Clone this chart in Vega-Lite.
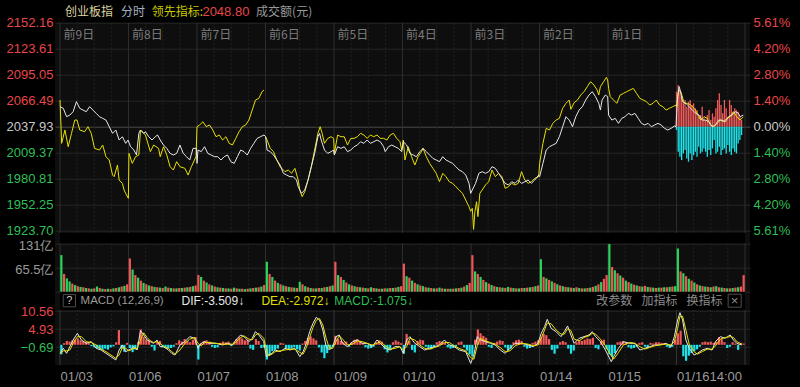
{
"$schema":"https://vega.github.io/schema/vega-lite/v6.json",
"autosize":{"type":"none"},
"width":695,"height":342.3,
"padding":{"left":55,"top":22.7,"right":50,"bottom":22},
"background":"#000000",
"config":{"view":{"stroke":null,"fill":"#0e0e0e"},"axis":{"labelFont":"Liberation Sans","labelFontSize":13,"domain":false,"ticks":false,"labelOverlap":false}},
"datasets":{
"vg":[{"t":0,"k":"d"},{"t":0.25,"k":"q"},{"t":0.5,"k":"q"},{"t":0.75,"k":"q"},{"t":1,"k":"d"},{"t":1.25,"k":"q"},{"t":1.5,"k":"q"},{"t":1.75,"k":"q"},{"t":2,"k":"d"},{"t":2.25,"k":"q"},{"t":2.5,"k":"q"},{"t":2.75,"k":"q"},{"t":3,"k":"d"},{"t":3.25,"k":"q"},{"t":3.5,"k":"q"},{"t":3.75,"k":"q"},{"t":4,"k":"d"},{"t":4.25,"k":"q"},{"t":4.5,"k":"q"},{"t":4.75,"k":"q"},{"t":5,"k":"d"},{"t":5.25,"k":"q"},{"t":5.5,"k":"q"},{"t":5.75,"k":"q"},{"t":6,"k":"d"},{"t":6.25,"k":"q"},{"t":6.5,"k":"q"},{"t":6.75,"k":"q"},{"t":7,"k":"d"},{"t":7.25,"k":"q"},{"t":7.5,"k":"q"},{"t":7.75,"k":"q"},{"t":8,"k":"d"},{"t":8.25,"k":"q"},{"t":8.5,"k":"q"},{"t":8.75,"k":"q"},{"t":9,"k":"d"},{"t":9.25,"k":"q"},{"t":9.5,"k":"q"},{"t":9.75,"k":"q"},{"t":10,"k":"d"}],
"days":[{"d":0,"s":"前9日"},{"d":1,"s":"前8日"},{"d":2,"s":"前7日"},{"d":3,"s":"前6日"},{"d":4,"s":"前5日"},{"d":5,"s":"前4日"},{"d":6,"s":"前3日"},{"d":7,"s":"前2日"},{"d":8,"s":"前1日"}],
"ln":[
{"g":"w","t":0,"p":2059.9},{"g":"w","t":0.048,"p":2058.1},{"g":"w","t":0.096,"p":2048.9},{"g":"w","t":0.144,"p":2050.7},{"g":"w","t":0.192,"p":2054.4},{"g":"w","t":0.24,"p":2065.4},{"g":"w","t":0.288,"p":2058.1},{"g":"w","t":0.336,"p":2056.2},{"g":"w","t":0.384,"p":2054.4},{"g":"w","t":0.432,"p":2059.9},{"g":"w","t":0.48,"p":2056.2},{"g":"w","t":0.528,"p":2052.6},{"g":"w","t":0.576,"p":2048.9},{"g":"w","t":0.623,"p":2047.1},{"g":"w","t":0.671,"p":2045.2},{"g":"w","t":0.719,"p":2037.9},{"g":"w","t":0.767,"p":2030.6},{"g":"w","t":0.815,"p":2034.3},{"g":"w","t":0.863,"p":2023.3},{"g":"w","t":0.911,"p":2026.9},{"g":"w","t":0.959,"p":2019.6},{"g":"w","t":0.993,"p":2023.3},
{"g":"w","t":1.031,"p":2015.9},{"g":"w","t":1.079,"p":2012.3},{"g":"w","t":1.117,"p":2006.8},{"g":"w","t":1.151,"p":2030.6},{"g":"w","t":1.175,"p":2034.3},{"g":"w","t":1.223,"p":2030.6},{"g":"w","t":1.247,"p":2032.4},{"g":"w","t":1.295,"p":2026.9},{"g":"w","t":1.343,"p":2023.3},{"g":"w","t":1.391,"p":2026.9},{"g":"w","t":1.424,"p":2028.8},{"g":"w","t":1.463,"p":2023.3},{"g":"w","t":1.511,"p":2017.8},{"g":"w","t":1.559,"p":2014.1},{"g":"w","t":1.607,"p":2008.6},{"g":"w","t":1.655,"p":2006.8},{"g":"w","t":1.703,"p":2008.6},{"g":"w","t":1.751,"p":2017.8},{"g":"w","t":1.799,"p":2008.6},{"g":"w","t":1.847,"p":2005.0},{"g":"w","t":1.894,"p":2001.3},{"g":"w","t":1.942,"p":2014.1},{"g":"w","t":1.99,"p":2014.1},
{"g":"w","t":2.0,"p":1997.6},{"g":"w","t":2.014,"p":2012.3},{"g":"w","t":2.062,"p":2010.5},{"g":"w","t":2.11,"p":2015.9},{"g":"w","t":2.158,"p":2008.6},{"g":"w","t":2.206,"p":2006.8},{"g":"w","t":2.254,"p":2005.0},{"g":"w","t":2.302,"p":2005.0},{"g":"w","t":2.35,"p":2001.3},{"g":"w","t":2.398,"p":2005.0},{"g":"w","t":2.446,"p":2006.8},{"g":"w","t":2.494,"p":1999.5},{"g":"w","t":2.542,"p":1997.6},{"g":"w","t":2.59,"p":2005.0},{"g":"w","t":2.638,"p":2012.3},{"g":"w","t":2.686,"p":2010.5},{"g":"w","t":2.734,"p":2006.8},{"g":"w","t":2.782,"p":2014.1},{"g":"w","t":2.83,"p":2019.6},{"g":"w","t":2.878,"p":2025.1},{"g":"w","t":2.926,"p":2026.9},{"g":"w","t":2.978,"p":2028.8},
{"g":"w","t":3.002,"p":2026.9},{"g":"w","t":3.022,"p":2012.3},{"g":"w","t":3.07,"p":2010.5},{"g":"w","t":3.117,"p":2006.8},{"g":"w","t":3.165,"p":2001.3},{"g":"w","t":3.213,"p":1995.8},{"g":"w","t":3.261,"p":1986.7},{"g":"w","t":3.309,"p":1984.8},{"g":"w","t":3.357,"p":1983.0},{"g":"w","t":3.405,"p":1983.0},{"g":"w","t":3.453,"p":1979.3},{"g":"w","t":3.477,"p":1972.0},{"g":"w","t":3.525,"p":1964.7},{"g":"w","t":3.573,"p":1968.4},{"g":"w","t":3.621,"p":1979.3},{"g":"w","t":3.669,"p":1994.0},{"g":"w","t":3.717,"p":2008.6},{"g":"w","t":3.765,"p":2026.9},{"g":"w","t":3.789,"p":2030.6},{"g":"w","t":3.813,"p":2023.3},{"g":"w","t":3.861,"p":2012.3},{"g":"w","t":3.909,"p":2008.6},{"g":"w","t":3.957,"p":2010.5},{"g":"w","t":3.995,"p":2012.3},
{"g":"w","t":4.005,"p":2006.8},{"g":"w","t":4.053,"p":2015.9},{"g":"w","t":4.101,"p":2014.1},{"g":"w","t":4.149,"p":2015.9},{"g":"w","t":4.197,"p":2010.5},{"g":"w","t":4.245,"p":2012.3},{"g":"w","t":4.293,"p":2015.9},{"g":"w","t":4.341,"p":2017.8},{"g":"w","t":4.388,"p":2021.4},{"g":"w","t":4.436,"p":2019.6},{"g":"w","t":4.484,"p":2023.3},{"g":"w","t":4.532,"p":2019.6},{"g":"w","t":4.58,"p":2021.4},{"g":"w","t":4.628,"p":2023.3},{"g":"w","t":4.676,"p":2021.4},{"g":"w","t":4.724,"p":2015.9},{"g":"w","t":4.748,"p":2010.5},{"g":"w","t":4.796,"p":2015.9},{"g":"w","t":4.844,"p":2017.8},{"g":"w","t":4.892,"p":2015.9},{"g":"w","t":4.94,"p":2014.1},{"g":"w","t":4.988,"p":2010.5},
{"g":"w","t":5.012,"p":2021.4},{"g":"w","t":5.06,"p":2017.8},{"g":"w","t":5.108,"p":2008.6},{"g":"w","t":5.156,"p":2006.8},{"g":"w","t":5.204,"p":2005.0},{"g":"w","t":5.252,"p":2010.5},{"g":"w","t":5.3,"p":2014.1},{"g":"w","t":5.348,"p":2010.5},{"g":"w","t":5.396,"p":2006.8},{"g":"w","t":5.444,"p":2003.1},{"g":"w","t":5.492,"p":2001.3},{"g":"w","t":5.54,"p":1999.5},{"g":"w","t":5.588,"p":2005.0},{"g":"w","t":5.635,"p":2001.3},{"g":"w","t":5.683,"p":1999.5},{"g":"w","t":5.731,"p":1997.6},{"g":"w","t":5.779,"p":1994.0},{"g":"w","t":5.827,"p":1990.3},{"g":"w","t":5.875,"p":1988.5},{"g":"w","t":5.923,"p":1984.8},{"g":"w","t":5.971,"p":1975.7},{"g":"w","t":5.995,"p":1964.7},
{"g":"w","t":6.019,"p":1968.4},{"g":"w","t":6.067,"p":1975.7},{"g":"w","t":6.115,"p":1986.7},{"g":"w","t":6.163,"p":1988.5},{"g":"w","t":6.211,"p":1986.7},{"g":"w","t":6.259,"p":1988.5},{"g":"w","t":6.307,"p":1994.0},{"g":"w","t":6.355,"p":1992.2},{"g":"w","t":6.403,"p":1986.7},{"g":"w","t":6.451,"p":1981.2},{"g":"w","t":6.499,"p":1975.7},{"g":"w","t":6.547,"p":1973.9},{"g":"w","t":6.595,"p":1977.5},{"g":"w","t":6.643,"p":1975.7},{"g":"w","t":6.69,"p":1979.3},{"g":"w","t":6.738,"p":1975.7},{"g":"w","t":6.786,"p":1977.5},{"g":"w","t":6.834,"p":1979.3},{"g":"w","t":6.882,"p":1975.7},{"g":"w","t":6.93,"p":1979.3},{"g":"w","t":6.988,"p":1984.8},
{"g":"w","t":7.002,"p":1983.0},{"g":"w","t":7.05,"p":1997.6},{"g":"w","t":7.098,"p":2012.3},{"g":"w","t":7.146,"p":2015.9},{"g":"w","t":7.194,"p":2017.8},{"g":"w","t":7.242,"p":2019.6},{"g":"w","t":7.29,"p":2026.9},{"g":"w","t":7.338,"p":2037.9},{"g":"w","t":7.386,"p":2048.9},{"g":"w","t":7.434,"p":2045.2},{"g":"w","t":7.482,"p":2037.9},{"g":"w","t":7.53,"p":2048.9},{"g":"w","t":7.578,"p":2056.2},{"g":"w","t":7.626,"p":2059.9},{"g":"w","t":7.674,"p":2067.2},{"g":"w","t":7.722,"p":2072.7},{"g":"w","t":7.77,"p":2076.4},{"g":"w","t":7.817,"p":2070.9},{"g":"w","t":7.865,"p":2063.6},{"g":"w","t":7.889,"p":2056.2},{"g":"w","t":7.913,"p":2067.2},{"g":"w","t":7.961,"p":2072.7},{"g":"w","t":7.995,"p":2070.9},
{"g":"w","t":8.009,"p":2050.7},{"g":"w","t":8.057,"p":2045.2},{"g":"w","t":8.105,"p":2047.1},{"g":"w","t":8.153,"p":2041.6},{"g":"w","t":8.201,"p":2047.1},{"g":"w","t":8.249,"p":2048.9},{"g":"w","t":8.297,"p":2052.6},{"g":"w","t":8.345,"p":2050.7},{"g":"w","t":8.393,"p":2052.6},{"g":"w","t":8.441,"p":2047.1},{"g":"w","t":8.489,"p":2041.6},{"g":"w","t":8.537,"p":2039.8},{"g":"w","t":8.585,"p":2041.6},{"g":"w","t":8.633,"p":2037.9},{"g":"w","t":8.681,"p":2039.8},{"g":"w","t":8.729,"p":2041.6},{"g":"w","t":8.777,"p":2039.8},{"g":"w","t":8.825,"p":2036.1},{"g":"w","t":8.873,"p":2034.3},{"g":"w","t":8.921,"p":2036.1},{"g":"w","t":8.969,"p":2038.7},{"g":"w","t":8.993,"p":2037.9},
{"g":"w","t":9.002,"p":2052.6},{"g":"w","t":9.016,"p":2070.9},{"g":"w","t":9.04,"p":2081.9},{"g":"w","t":9.064,"p":2074.5},{"g":"w","t":9.088,"p":2065.4},{"g":"w","t":9.136,"p":2063.6},{"g":"w","t":9.184,"p":2059.9},{"g":"w","t":9.232,"p":2056.2},{"g":"w","t":9.28,"p":2052.6},{"g":"w","t":9.328,"p":2050.7},{"g":"w","t":9.376,"p":2045.2},{"g":"w","t":9.424,"p":2045.2},{"g":"w","t":9.472,"p":2043.4},{"g":"w","t":9.52,"p":2037.9},{"g":"w","t":9.568,"p":2039.8},{"g":"w","t":9.616,"p":2045.2},{"g":"w","t":9.664,"p":2045.2},{"g":"w","t":9.712,"p":2043.4},{"g":"w","t":9.76,"p":2048.9},{"g":"w","t":9.808,"p":2050.7},{"g":"w","t":9.856,"p":2054.4},{"g":"w","t":9.904,"p":2052.6},{"g":"w","t":9.928,"p":2048.9},{"g":"w","t":9.976,"p":2050.7},
{"g":"a","t":0,"p":2067.2},{"g":"a","t":0.024,"p":2019.6},{"g":"a","t":0.072,"p":2034.3},{"g":"a","t":0.12,"p":2015.9},{"g":"a","t":0.168,"p":2030.6},{"g":"a","t":0.216,"p":2045.2},{"g":"a","t":0.249,"p":2045.2},{"g":"a","t":0.288,"p":2034.3},{"g":"a","t":0.36,"p":2032.4},{"g":"a","t":0.408,"p":2037.9},{"g":"a","t":0.456,"p":2030.6},{"g":"a","t":0.504,"p":2014.1},{"g":"a","t":0.576,"p":2012.3},{"g":"a","t":0.623,"p":2017.8},{"g":"a","t":0.671,"p":2005.0},{"g":"a","t":0.719,"p":2001.3},{"g":"a","t":0.767,"p":1984.8},{"g":"a","t":0.791,"p":1983.0},{"g":"a","t":0.839,"p":1995.8},{"g":"a","t":0.863,"p":1979.3},{"g":"a","t":0.911,"p":1975.7},{"g":"a","t":0.935,"p":1968.4},{"g":"a","t":0.959,"p":1964.7},{"g":"a","t":0.998,"p":1959.2},
{"g":"a","t":1.007,"p":2008.6},{"g":"a","t":1.055,"p":1997.6},{"g":"a","t":1.103,"p":2005.0},{"g":"a","t":1.151,"p":2006.8},{"g":"a","t":1.175,"p":2034.3},{"g":"a","t":1.247,"p":2028.8},{"g":"a","t":1.319,"p":2010.5},{"g":"a","t":1.367,"p":2017.8},{"g":"a","t":1.439,"p":2014.1},{"g":"a","t":1.463,"p":2005.0},{"g":"a","t":1.511,"p":2015.9},{"g":"a","t":1.559,"p":2006.8},{"g":"a","t":1.607,"p":1994.0},{"g":"a","t":1.655,"p":1990.3},{"g":"a","t":1.703,"p":1999.5},{"g":"a","t":1.751,"p":1994.0},{"g":"a","t":1.823,"p":1992.2},{"g":"a","t":1.87,"p":1984.8},{"g":"a","t":1.918,"p":1994.0},{"g":"a","t":1.986,"p":2005.0},
{"g":"a","t":2.0,"p":2037.9},{"g":"a","t":2.038,"p":2039.8},{"g":"a","t":2.086,"p":2043.4},{"g":"a","t":2.134,"p":2037.9},{"g":"a","t":2.182,"p":2039.8},{"g":"a","t":2.23,"p":2034.3},{"g":"a","t":2.278,"p":2026.9},{"g":"a","t":2.326,"p":2028.8},{"g":"a","t":2.374,"p":2023.3},{"g":"a","t":2.422,"p":2026.9},{"g":"a","t":2.47,"p":2019.6},{"g":"a","t":2.518,"p":2017.8},{"g":"a","t":2.566,"p":2025.1},{"g":"a","t":2.614,"p":2032.4},{"g":"a","t":2.662,"p":2037.9},{"g":"a","t":2.71,"p":2039.8},{"g":"a","t":2.758,"p":2045.2},{"g":"a","t":2.806,"p":2056.2},{"g":"a","t":2.854,"p":2067.2},{"g":"a","t":2.902,"p":2069.0},{"g":"a","t":2.95,"p":2076.4},{"g":"a","t":2.978,"p":2078.2},
{"g":"b","t":3.002,"p":2026.9},{"g":"b","t":3.022,"p":2023.3},{"g":"b","t":3.07,"p":2014.1},{"g":"b","t":3.117,"p":2010.5},{"g":"b","t":3.165,"p":2001.3},{"g":"b","t":3.213,"p":1994.0},{"g":"b","t":3.285,"p":1988.5},{"g":"b","t":3.333,"p":1990.3},{"g":"b","t":3.381,"p":1986.7},{"g":"b","t":3.429,"p":1992.2},{"g":"b","t":3.477,"p":1979.3},{"g":"b","t":3.501,"p":1968.4},{"g":"b","t":3.535,"p":1961.0},{"g":"b","t":3.573,"p":1966.5},{"g":"b","t":3.621,"p":1979.3},{"g":"b","t":3.669,"p":1994.0},{"g":"b","t":3.717,"p":2012.3},{"g":"b","t":3.765,"p":2030.6},{"g":"b","t":3.798,"p":2037.9},{"g":"b","t":3.827,"p":2030.6},{"g":"b","t":3.861,"p":2019.6},{"g":"b","t":3.909,"p":2025.1},{"g":"b","t":3.957,"p":2026.9},{"g":"b","t":3.995,"p":2025.1},
{"g":"b","t":4.005,"p":2008.6},{"g":"b","t":4.053,"p":2028.8},{"g":"b","t":4.101,"p":2026.9},{"g":"b","t":4.149,"p":2026.9},{"g":"b","t":4.197,"p":2017.8},{"g":"b","t":4.245,"p":2025.1},{"g":"b","t":4.293,"p":2025.1},{"g":"b","t":4.341,"p":2026.9},{"g":"b","t":4.388,"p":2030.6},{"g":"b","t":4.436,"p":2028.8},{"g":"b","t":4.484,"p":2025.1},{"g":"b","t":4.532,"p":2028.8},{"g":"b","t":4.58,"p":2026.9},{"g":"b","t":4.628,"p":2028.8},{"g":"b","t":4.676,"p":2025.1},{"g":"b","t":4.724,"p":2025.1},{"g":"b","t":4.772,"p":2023.3},{"g":"b","t":4.82,"p":2028.8},{"g":"b","t":4.868,"p":2030.6},{"g":"b","t":4.916,"p":2025.1},{"g":"b","t":4.964,"p":2021.4},{"g":"b","t":4.988,"p":2012.3},
{"g":"b","t":5.012,"p":2023.3},{"g":"b","t":5.036,"p":2001.3},{"g":"b","t":5.084,"p":2015.9},{"g":"b","t":5.132,"p":2005.0},{"g":"b","t":5.18,"p":1995.8},{"g":"b","t":5.228,"p":2005.0},{"g":"b","t":5.276,"p":2010.5},{"g":"b","t":5.3,"p":2014.1},{"g":"b","t":5.348,"p":2005.0},{"g":"b","t":5.396,"p":1997.6},{"g":"b","t":5.444,"p":1992.2},{"g":"b","t":5.492,"p":1986.7},{"g":"b","t":5.54,"p":1977.5},{"g":"b","t":5.588,"p":1986.7},{"g":"b","t":5.635,"p":1983.0},{"g":"b","t":5.683,"p":1977.5},{"g":"b","t":5.731,"p":1975.7},{"g":"b","t":5.779,"p":1972.0},{"g":"b","t":5.827,"p":1968.4},{"g":"b","t":5.875,"p":1964.7},{"g":"b","t":5.923,"p":1957.4},{"g":"b","t":5.971,"p":1950.0},{"g":"b","t":5.995,"p":1945.0},
{"g":"b","t":6.019,"p":1948.2},{"g":"b","t":6.038,"p":1925.1},{"g":"b","t":6.057,"p":1944.6},{"g":"b","t":6.081,"p":1955.5},{"g":"b","t":6.101,"p":1939.1},{"g":"b","t":6.129,"p":1964.7},{"g":"b","t":6.163,"p":1968.4},{"g":"b","t":6.211,"p":1973.9},{"g":"b","t":6.259,"p":1977.5},{"g":"b","t":6.307,"p":1990.3},{"g":"b","t":6.355,"p":1983.0},{"g":"b","t":6.403,"p":1986.7},{"g":"b","t":6.451,"p":1983.0},{"g":"b","t":6.499,"p":1970.2},{"g":"b","t":6.547,"p":1972.0},{"g":"b","t":6.595,"p":1975.7},{"g":"b","t":6.643,"p":1973.9},{"g":"b","t":6.69,"p":1975.7},{"g":"b","t":6.738,"p":1988.5},{"g":"b","t":6.786,"p":1979.3},{"g":"b","t":6.834,"p":1975.7},{"g":"b","t":6.882,"p":1977.5},{"g":"b","t":6.93,"p":1981.2},{"g":"b","t":6.988,"p":1983.0},
{"g":"b","t":7.002,"p":1997.6},{"g":"b","t":7.05,"p":2019.6},{"g":"b","t":7.098,"p":2036.1},{"g":"b","t":7.146,"p":2034.3},{"g":"b","t":7.194,"p":2041.6},{"g":"b","t":7.242,"p":2045.2},{"g":"b","t":7.29,"p":2047.1},{"g":"b","t":7.338,"p":2058.1},{"g":"b","t":7.386,"p":2063.6},{"g":"b","t":7.434,"p":2067.2},{"g":"b","t":7.458,"p":2057.0},{"g":"b","t":7.506,"p":2064.3},{"g":"b","t":7.554,"p":2067.2},{"g":"b","t":7.602,"p":2072.7},{"g":"b","t":7.65,"p":2076.4},{"g":"b","t":7.698,"p":2081.9},{"g":"b","t":7.746,"p":2087.4},{"g":"b","t":7.794,"p":2083.7},{"g":"b","t":7.842,"p":2078.2},{"g":"b","t":7.865,"p":2072.7},{"g":"b","t":7.889,"p":2081.9},{"g":"b","t":7.937,"p":2087.4},{"g":"b","t":7.976,"p":2092.1},{"g":"b","t":7.995,"p":2089.2},
{"g":"b","t":8.009,"p":2080.0},{"g":"b","t":8.033,"p":2070.9},{"g":"b","t":8.081,"p":2067.2},{"g":"b","t":8.129,"p":2063.6},{"g":"b","t":8.177,"p":2072.7},{"g":"b","t":8.225,"p":2074.5},{"g":"b","t":8.273,"p":2076.4},{"g":"b","t":8.321,"p":2078.2},{"g":"b","t":8.369,"p":2080.0},{"g":"b","t":8.417,"p":2074.5},{"g":"b","t":8.465,"p":2069.0},{"g":"b","t":8.513,"p":2067.2},{"g":"b","t":8.561,"p":2065.4},{"g":"b","t":8.609,"p":2061.7},{"g":"b","t":8.657,"p":2063.6},{"g":"b","t":8.705,"p":2067.2},{"g":"b","t":8.753,"p":2061.7},{"g":"b","t":8.801,"p":2059.9},{"g":"b","t":8.849,"p":2056.2},{"g":"b","t":8.897,"p":2058.1},{"g":"b","t":8.945,"p":2059.9},{"g":"b","t":8.993,"p":2061.7},
{"g":"b","t":9.002,"p":2059.9},{"g":"b","t":9.031,"p":2078.2},{"g":"b","t":9.064,"p":2076.4},{"g":"b","t":9.112,"p":2063.6},{"g":"b","t":9.16,"p":2063.6},{"g":"b","t":9.208,"p":2061.7},{"g":"b","t":9.256,"p":2058.1},{"g":"b","t":9.304,"p":2052.6},{"g":"b","t":9.352,"p":2045.2},{"g":"b","t":9.4,"p":2048.9},{"g":"b","t":9.448,"p":2047.1},{"g":"b","t":9.496,"p":2039.8},{"g":"b","t":9.544,"p":2037.9},{"g":"b","t":9.592,"p":2041.6},{"g":"b","t":9.64,"p":2045.2},{"g":"b","t":9.688,"p":2043.4},{"g":"b","t":9.736,"p":2047.1},{"g":"b","t":9.784,"p":2048.9},{"g":"b","t":9.832,"p":2054.4},{"g":"b","t":9.88,"p":2048.9},{"g":"b","t":9.928,"p":2045.2},{"g":"b","t":9.976,"p":2048.8}
],
"ind":[
{"t":9.0,"u":1.89,"n":-0.18},{"t":9.025,"u":2.25,"n":-1.35},{"t":9.05,"u":1.98,"n":-1.62},{"t":9.075,"u":1.62,"n":-1.8},{"t":9.1,"u":1.26,"n":-1.44},{"t":9.125,"u":1.44,"n":-1.26},{"t":9.15,"u":1.08,"n":-1.71},{"t":9.175,"u":1.35,"n":-1.89},{"t":9.2,"u":1.44,"n":-1.44},{"t":9.225,"u":1.17,"n":-1.8},{"t":9.25,"u":1.26,"n":-1.53},{"t":9.275,"u":0.99,"n":-1.35},{"t":9.3,"u":0.9,"n":-1.62},{"t":9.325,"u":0.54,"n":-1.08},{"t":9.35,"u":0.63,"n":-1.44},{"t":9.375,"u":1.08,"n":-1.35},{"t":9.4,"u":0.45,"n":-1.17},{"t":9.425,"u":0.36,"n":-1.35},{"t":9.45,"u":0.63,"n":-1.62},{"t":9.475,"u":0.9,"n":-1.26},{"t":9.5,"u":0.36,"n":-1.53},{"t":9.525,"u":0.72,"n":-1.17},{"t":9.55,"u":0.54,"n":-0.72},{"t":9.575,"u":0.99,"n":-1.44},{"t":9.6,"u":1.44,"n":-1.35},{"t":9.625,"u":1.8,"n":-1.08},{"t":9.65,"u":1.17,"n":-1.53},{"t":9.675,"u":0.72,"n":-1.26},{"t":9.7,"u":1.44,"n":-1.17},{"t":9.725,"u":0.99,"n":-1.44},{"t":9.75,"u":0.54,"n":-0.99},{"t":9.775,"u":1.44,"n":-1.35},{"t":9.8,"u":1.17,"n":-1.53},{"t":9.825,"u":0.81,"n":-1.17},{"t":9.85,"u":0.99,"n":-1.35},{"t":9.875,"u":0.9,"n":-1.44},{"t":9.9,"u":0.81,"n":-0.9},{"t":9.925,"u":0.54,"n":-0.72},{"t":9.95,"u":0.36,"n":-0.45}
],
"vb":[
{"t":0.02,"v":99,"c":"g","h":-3.0},{"t":0.06,"v":48,"c":"r","h":0.5},{"t":0.10,"v":36,"c":"g","h":1.2},{"t":0.14,"v":28,"c":"g","h":1.0},{"t":0.18,"v":22,"c":"r","h":1.4},{"t":0.22,"v":18,"c":"g","h":1.6},{"t":0.26,"v":15,"c":"r","h":2.0},{"t":0.30,"v":13,"c":"g","h":1.4},{"t":0.34,"v":12,"c":"r","h":1.2},{"t":0.38,"v":10,"c":"g","h":1.0},{"t":0.42,"v":9,"c":"r","h":0.6},{"t":0.46,"v":8,"c":"g","h":-0.4},{"t":0.50,"v":9,"c":"r","h":-0.8},{"t":0.54,"v":14,"c":"g","h":-1.0},{"t":0.58,"v":10,"c":"r","h":-1.4},{"t":0.62,"v":8,"c":"g","h":-1.6},{"t":0.66,"v":7,"c":"r","h":-1.2},{"t":0.70,"v":8,"c":"g","h":-1.5},{"t":0.74,"v":7,"c":"r","h":-0.8},{"t":0.78,"v":9,"c":"g","h":-0.5},{"t":0.82,"v":10,"c":"r","h":0.8},{"t":0.86,"v":12,"c":"g","h":4.6},{"t":0.90,"v":14,"c":"r","h":-1.2},{"t":0.94,"v":16,"c":"g","h":-2.2},{"t":0.98,"v":20,"c":"r","h":0.6},
{"t":1.02,"v":90,"c":"r","h":-1.0},{"t":1.06,"v":60,"c":"g","h":-2.3},{"t":1.10,"v":45,"c":"r","h":-1.5},{"t":1.14,"v":38,"c":"g","h":0.8},{"t":1.18,"v":30,"c":"r","h":4.8},{"t":1.22,"v":24,"c":"g","h":2.5},{"t":1.26,"v":20,"c":"r","h":1.6},{"t":1.30,"v":17,"c":"g","h":1.4},{"t":1.34,"v":15,"c":"r","h":-0.6},{"t":1.38,"v":13,"c":"g","h":-1.8},{"t":1.42,"v":12,"c":"r","h":0.8},{"t":1.46,"v":11,"c":"g","h":1.2},{"t":1.50,"v":10,"c":"r","h":-0.8},{"t":1.54,"v":14,"c":"g","h":-1.0},{"t":1.58,"v":11,"c":"r","h":-1.2},{"t":1.62,"v":10,"c":"g","h":-1.0},{"t":1.66,"v":9,"c":"r","h":-0.6},{"t":1.70,"v":9,"c":"g","h":0.5},{"t":1.74,"v":10,"c":"r","h":1.4},{"t":1.78,"v":10,"c":"g","h":1.0},{"t":1.82,"v":11,"c":"r","h":1.8},{"t":1.86,"v":12,"c":"g","h":1.2},{"t":1.90,"v":13,"c":"r","h":0.8},{"t":1.94,"v":15,"c":"g","h":1.6},{"t":1.98,"v":17,"c":"r","h":2.4},
{"t":2.02,"v":45,"c":"r","h":-4.6},{"t":2.06,"v":40,"c":"g","h":0.6},{"t":2.10,"v":30,"c":"r","h":1.2},{"t":2.14,"v":25,"c":"g","h":1.4},{"t":2.18,"v":20,"c":"r","h":1.0},{"t":2.22,"v":17,"c":"g","h":-0.6},{"t":2.26,"v":14,"c":"r","h":-1.0},{"t":2.30,"v":12,"c":"g","h":-0.8},{"t":2.34,"v":11,"c":"r","h":0.6},{"t":2.38,"v":10,"c":"g","h":1.0},{"t":2.42,"v":9,"c":"r","h":0.8},{"t":2.46,"v":9,"c":"g","h":1.0},{"t":2.50,"v":8,"c":"r","h":-0.4},{"t":2.54,"v":11,"c":"g","h":0.8},{"t":2.58,"v":9,"c":"r","h":1.8},{"t":2.62,"v":8,"c":"g","h":2.4},{"t":2.66,"v":8,"c":"r","h":2.0},{"t":2.70,"v":7,"c":"g","h":1.4},{"t":2.74,"v":8,"c":"r","h":1.6},{"t":2.78,"v":9,"c":"g","h":-1.2},{"t":2.82,"v":10,"c":"r","h":-1.6},{"t":2.86,"v":11,"c":"g","h":1.8},{"t":2.90,"v":12,"c":"r","h":1.2},{"t":2.94,"v":14,"c":"g","h":-1.0},{"t":2.98,"v":18,"c":"r","h":-0.8},
{"t":3.02,"v":81,"c":"g","h":-4.6},{"t":3.06,"v":48,"c":"r","h":-3.2},{"t":3.10,"v":40,"c":"g","h":-2.0},{"t":3.14,"v":30,"c":"r","h":-1.6},{"t":3.18,"v":24,"c":"g","h":-1.2},{"t":3.22,"v":20,"c":"r","h":0.6},{"t":3.26,"v":17,"c":"g","h":0.4},{"t":3.30,"v":15,"c":"r","h":-1.0},{"t":3.34,"v":13,"c":"g","h":-1.6},{"t":3.38,"v":12,"c":"r","h":-1.2},{"t":3.42,"v":11,"c":"g","h":-0.8},{"t":3.46,"v":10,"c":"r","h":-1.4},{"t":3.50,"v":27,"c":"g","h":-1.8},{"t":3.54,"v":20,"c":"r","h":0.4},{"t":3.58,"v":15,"c":"g","h":1.2},{"t":3.62,"v":12,"c":"r","h":2.2},{"t":3.66,"v":10,"c":"g","h":2.6},{"t":3.70,"v":9,"c":"r","h":2.0},{"t":3.74,"v":9,"c":"g","h":1.4},{"t":3.78,"v":10,"c":"r","h":-0.8},{"t":3.82,"v":10,"c":"g","h":-2.4},{"t":3.86,"v":12,"c":"r","h":-4.2},{"t":3.90,"v":13,"c":"g","h":-2.6},{"t":3.94,"v":15,"c":"r","h":-1.2},{"t":3.98,"v":17,"c":"g","h":-0.6},
{"t":4.02,"v":81,"c":"r","h":2.8},{"t":4.06,"v":45,"c":"g","h":1.8},{"t":4.10,"v":40,"c":"r","h":1.2},{"t":4.14,"v":32,"c":"g","h":0.8},{"t":4.18,"v":25,"c":"r","h":1.0},{"t":4.22,"v":20,"c":"g","h":-0.6},{"t":4.26,"v":17,"c":"r","h":0.8},{"t":4.30,"v":15,"c":"g","h":1.6},{"t":4.34,"v":13,"c":"r","h":1.8},{"t":4.38,"v":12,"c":"g","h":1.2},{"t":4.42,"v":11,"c":"r","h":0.6},{"t":4.46,"v":10,"c":"g","h":-0.8},{"t":4.50,"v":9,"c":"r","h":-1.2},{"t":4.54,"v":12,"c":"g","h":-1.0},{"t":4.58,"v":10,"c":"r","h":-0.6},{"t":4.62,"v":9,"c":"g","h":0.8},{"t":4.66,"v":8,"c":"r","h":1.4},{"t":4.70,"v":8,"c":"g","h":1.0},{"t":4.74,"v":9,"c":"r","h":-1.4},{"t":4.78,"v":9,"c":"g","h":-2.4},{"t":4.82,"v":10,"c":"r","h":-1.6},{"t":4.86,"v":10,"c":"g","h":0.8},{"t":4.90,"v":11,"c":"r","h":1.4},{"t":4.94,"v":13,"c":"g","h":1.0},{"t":4.98,"v":15,"c":"r","h":0.5},
{"t":5.02,"v":76,"c":"r","h":-2.8},{"t":5.06,"v":42,"c":"g","h":3.4},{"t":5.10,"v":38,"c":"r","h":1.2},{"t":5.14,"v":30,"c":"g","h":-1.6},{"t":5.18,"v":24,"c":"r","h":-2.4},{"t":5.22,"v":20,"c":"g","h":1.2},{"t":5.26,"v":17,"c":"r","h":1.6},{"t":5.30,"v":15,"c":"g","h":1.4},{"t":5.34,"v":12,"c":"r","h":-0.6},{"t":5.38,"v":11,"c":"g","h":-1.2},{"t":5.42,"v":10,"c":"r","h":-1.4},{"t":5.46,"v":9,"c":"g","h":-0.8},{"t":5.50,"v":9,"c":"r","h":0.8},{"t":5.54,"v":11,"c":"g","h":1.2},{"t":5.58,"v":9,"c":"r","h":1.0},{"t":5.62,"v":8,"c":"g","h":0.6},{"t":5.66,"v":8,"c":"r","h":-0.8},{"t":5.70,"v":8,"c":"g","h":-1.2},{"t":5.74,"v":8,"c":"r","h":-1.0},{"t":5.78,"v":9,"c":"g","h":-0.6},{"t":5.82,"v":10,"c":"r","h":0.8},{"t":5.86,"v":11,"c":"g","h":1.0},{"t":5.90,"v":14,"c":"r","h":-0.8},{"t":5.94,"v":18,"c":"g","h":-1.8},{"t":5.98,"v":24,"c":"r","h":-3.0},
{"t":6.02,"v":99,"c":"r","h":-3.6},{"t":6.06,"v":55,"c":"g","h":1.6},{"t":6.10,"v":48,"c":"r","h":4.8},{"t":6.14,"v":40,"c":"g","h":3.6},{"t":6.18,"v":32,"c":"r","h":2.8},{"t":6.22,"v":26,"c":"g","h":2.2},{"t":6.26,"v":22,"c":"r","h":-0.6},{"t":6.30,"v":18,"c":"g","h":-1.0},{"t":6.34,"v":15,"c":"r","h":0.6},{"t":6.38,"v":13,"c":"g","h":1.0},{"t":6.42,"v":12,"c":"r","h":1.4},{"t":6.46,"v":11,"c":"g","h":1.2},{"t":6.50,"v":10,"c":"r","h":-0.8},{"t":6.54,"v":13,"c":"g","h":-1.8},{"t":6.58,"v":11,"c":"r","h":-1.2},{"t":6.62,"v":10,"c":"g","h":0.8},{"t":6.66,"v":9,"c":"r","h":1.4},{"t":6.70,"v":9,"c":"g","h":1.6},{"t":6.74,"v":10,"c":"r","h":1.2},{"t":6.78,"v":10,"c":"g","h":-0.6},{"t":6.82,"v":11,"c":"r","h":-1.2},{"t":6.86,"v":12,"c":"g","h":-1.0},{"t":6.90,"v":13,"c":"r","h":0.6},{"t":6.94,"v":15,"c":"g","h":1.0},{"t":6.98,"v":17,"c":"r","h":1.4},
{"t":7.02,"v":88,"c":"g","h":2.2},{"t":7.06,"v":40,"c":"r","h":3.4},{"t":7.10,"v":36,"c":"g","h":3.0},{"t":7.14,"v":32,"c":"r","h":1.8},{"t":7.18,"v":28,"c":"g","h":-1.6},{"t":7.22,"v":24,"c":"r","h":-2.8},{"t":7.26,"v":20,"c":"g","h":-1.2},{"t":7.30,"v":17,"c":"r","h":0.8},{"t":7.34,"v":15,"c":"g","h":1.2},{"t":7.38,"v":13,"c":"r","h":0.8},{"t":7.42,"v":12,"c":"g","h":-1.2},{"t":7.46,"v":11,"c":"r","h":-2.8},{"t":7.50,"v":10,"c":"g","h":-1.8},{"t":7.54,"v":12,"c":"r","h":0.8},{"t":7.58,"v":10,"c":"g","h":1.4},{"t":7.62,"v":9,"c":"r","h":1.2},{"t":7.66,"v":9,"c":"g","h":1.6},{"t":7.70,"v":10,"c":"r","h":2.0},{"t":7.74,"v":11,"c":"g","h":1.8},{"t":7.78,"v":13,"c":"r","h":2.2},{"t":7.82,"v":16,"c":"g","h":-1.0},{"t":7.86,"v":20,"c":"r","h":-1.4},{"t":7.90,"v":26,"c":"g","h":1.2},{"t":7.94,"v":35,"c":"r","h":1.6},{"t":7.98,"v":45,"c":"r","h":-1.4},
{"t":8.02,"v":129,"c":"g","h":-3.0},{"t":8.06,"v":67,"c":"r","h":-3.8},{"t":8.10,"v":58,"c":"g","h":-2.6},{"t":8.14,"v":50,"c":"r","h":0.8},{"t":8.18,"v":44,"c":"g","h":1.0},{"t":8.22,"v":38,"c":"r","h":1.2},{"t":8.26,"v":30,"c":"g","h":0.8},{"t":8.30,"v":26,"c":"r","h":-0.8},{"t":8.34,"v":22,"c":"g","h":-1.2},{"t":8.38,"v":19,"c":"r","h":-1.0},{"t":8.42,"v":17,"c":"g","h":-0.6},{"t":8.46,"v":15,"c":"r","h":0.6},{"t":8.50,"v":14,"c":"g","h":0.8},{"t":8.54,"v":16,"c":"r","h":-0.6},{"t":8.58,"v":13,"c":"g","h":-1.0},{"t":8.62,"v":12,"c":"r","h":0.6},{"t":8.66,"v":11,"c":"g","h":0.4},{"t":8.70,"v":10,"c":"r","h":0.8},{"t":8.74,"v":11,"c":"g","h":0.8},{"t":8.78,"v":11,"c":"r","h":0.6},{"t":8.82,"v":12,"c":"g","h":0.4},{"t":8.86,"v":12,"c":"r","h":-0.6},{"t":8.90,"v":13,"c":"g","h":-1.0},{"t":8.94,"v":14,"c":"r","h":-0.6},{"t":8.98,"v":15,"c":"g","h":1.6},
{"t":9.02,"v":117,"c":"g","h":3.6},{"t":9.06,"v":55,"c":"r","h":4.4},{"t":9.10,"v":50,"c":"g","h":-3.6},{"t":9.14,"v":42,"c":"r","h":-5.0},{"t":9.18,"v":35,"c":"g","h":-3.4},{"t":9.22,"v":30,"c":"r","h":-2.6},{"t":9.26,"v":25,"c":"g","h":-2.0},{"t":9.30,"v":20,"c":"r","h":-1.4},{"t":9.34,"v":17,"c":"g","h":-0.6},{"t":9.38,"v":15,"c":"r","h":0.8},{"t":9.42,"v":14,"c":"g","h":1.0},{"t":9.46,"v":13,"c":"r","h":0.8},{"t":9.50,"v":12,"c":"g","h":1.0},{"t":9.54,"v":14,"c":"r","h":0.6},{"t":9.58,"v":15,"c":"g","h":1.0},{"t":9.62,"v":12,"c":"r","h":2.4},{"t":9.66,"v":11,"c":"g","h":1.8},{"t":9.70,"v":10,"c":"r","h":0.8},{"t":9.74,"v":9,"c":"g","h":-1.0},{"t":9.78,"v":9,"c":"r","h":-0.6},{"t":9.82,"v":10,"c":"g","h":0.8},{"t":9.86,"v":11,"c":"r","h":0.4},{"t":9.90,"v":12,"c":"g","h":-1.6},{"t":9.94,"v":14,"c":"r","h":0.6},{"t":9.98,"v":45,"c":"r","h":0.4}
],
"md":[
{"t":0,"d":-2.67,"e":-2.67},{"t":0.048,"d":-1.1,"e":-1.89},{"t":0.096,"d":-2.67,"e":-1.89},{"t":0.144,"d":-0.58,"e":-1.63},{"t":0.192,"d":1.5,"e":0.46},{"t":0.254,"d":3.59,"e":2.55},{"t":0.312,"d":1.5,"e":2.55},{"t":0.384,"d":0.46,"e":0.98},{"t":0.456,"d":0.98,"e":0.72},{"t":0.528,"d":-1.1,"e":-0.06},{"t":0.6,"d":-1.63,"e":-1.37},{"t":0.671,"d":-2.67,"e":-2.15},{"t":0.743,"d":-3.71,"e":-3.19},{"t":0.815,"d":-4.75,"e":-4.23},{"t":0.863,"d":-1.63,"e":-3.19},{"t":0.911,"d":-0.06,"e":-0.85},{"t":0.959,"d":-2.15,"e":-1.11},
{"t":1.007,"d":-1.63,"e":-1.89},{"t":1.079,"d":-0.58,"e":-1.11},{"t":1.127,"d":-1.63,"e":-1.11},{"t":1.175,"d":4.43,"e":1.4},{"t":1.223,"d":3.07,"e":3.75},{"t":1.271,"d":1.5,"e":2.29},{"t":1.319,"d":0.98,"e":1.24},{"t":1.367,"d":0.46,"e":0.72},{"t":1.415,"d":1.5,"e":0.98},{"t":1.463,"d":-0.58,"e":0.46},{"t":1.511,"d":-0.58,"e":-0.58},{"t":1.583,"d":-1.63,"e":-1.11},{"t":1.631,"d":-2.67,"e":-2.15},{"t":1.679,"d":-3.19,"e":-2.93},{"t":1.751,"d":-0.06,"e":-1.63},{"t":1.823,"d":0.98,"e":0.46},{"t":1.894,"d":2.55,"e":1.77},{"t":1.966,"d":2.03,"e":2.29},
{"t":2.014,"d":-1.1,"e":0.47},{"t":2.062,"d":0.46,"e":-0.32},{"t":2.11,"d":0.98,"e":0.72},{"t":2.182,"d":0.46,"e":0.72},{"t":2.278,"d":0.46,"e":0.46},{"t":2.374,"d":-0.06,"e":0.2},{"t":2.446,"d":0.46,"e":0.2},{"t":2.518,"d":-0.06,"e":0.2},{"t":2.566,"d":1.5,"e":0.72},{"t":2.638,"d":3.07,"e":2.29},{"t":2.686,"d":2.55,"e":2.81},{"t":2.758,"d":0.98,"e":1.77},{"t":2.806,"d":2.03,"e":1.51},{"t":2.854,"d":4.11,"e":3.07},{"t":2.902,"d":3.07,"e":3.59},{"t":2.974,"d":0.98,"e":2.03},
{"t":3.012,"d":-3.71,"e":-1.37},{"t":3.046,"d":-3.19,"e":-3.45},{"t":3.094,"d":-2.67,"e":-2.93},{"t":3.141,"d":-1.63,"e":-2.15},{"t":3.213,"d":-2.15,"e":-1.89},{"t":3.285,"d":-1.1,"e":-1.63},{"t":3.357,"d":-1.63,"e":-1.37},{"t":3.429,"d":-1.1,"e":-1.37},{"t":3.501,"d":-3.71,"e":-2.41},{"t":3.549,"d":-2.15,"e":-2.93},{"t":3.597,"d":0.46,"e":-0.85},{"t":3.645,"d":4.11,"e":2.29},{"t":3.693,"d":6.72,"e":5.42},{"t":3.741,"d":8.59,"e":7.66},{"t":3.789,"d":7.76,"e":8.18},{"t":3.837,"d":4.63,"e":6.2},{"t":3.885,"d":-0.58,"e":2.03},{"t":3.933,"d":-1.63,"e":-1.11},{"t":3.981,"d":-0.58,"e":-1.11},
{"t":4.029,"d":2.55,"e":0.99},{"t":4.077,"d":3.07,"e":2.81},{"t":4.125,"d":0.46,"e":1.77},{"t":4.197,"d":-0.58,"e":-0.06},{"t":4.269,"d":0.98,"e":0.2},{"t":4.341,"d":1.5,"e":1.24},{"t":4.412,"d":0.46,"e":0.98},{"t":4.484,"d":0.46,"e":0.46},{"t":4.556,"d":-0.58,"e":-0.06},{"t":4.628,"d":1.5,"e":0.46},{"t":4.676,"d":0.46,"e":0.98},{"t":4.748,"d":-1.1,"e":-0.32},{"t":4.82,"d":-1.63,"e":-1.37},{"t":4.892,"d":-0.58,"e":-1.11},{"t":4.964,"d":-0.58,"e":-0.58},
{"t":5.012,"d":-2.67,"e":-1.63},{"t":5.06,"d":1.5,"e":-0.59},{"t":5.108,"d":2.55,"e":2.03},{"t":5.18,"d":0.46,"e":1.51},{"t":5.252,"d":-0.58,"e":-0.06},{"t":5.324,"d":-1.63,"e":-1.11},{"t":5.396,"d":-1.1,"e":-1.37},{"t":5.468,"d":-0.58,"e":-0.84},{"t":5.54,"d":-0.06,"e":-0.32},{"t":5.612,"d":1.5,"e":0.72},{"t":5.683,"d":-0.06,"e":0.72},{"t":5.755,"d":-0.58,"e":-0.32},{"t":5.827,"d":-1.63,"e":-1.11},{"t":5.923,"d":-2.15,"e":-1.89},{"t":5.995,"d":-5.8,"e":-3.98},
{"t":6.043,"d":-3.19,"e":-4.5},{"t":6.091,"d":2.55,"e":-0.32},{"t":6.139,"d":1.5,"e":2.03},{"t":6.211,"d":0.98,"e":1.24},{"t":6.283,"d":0.46,"e":0.72},{"t":6.355,"d":-0.06,"e":0.2},{"t":6.427,"d":-1.63,"e":-0.85},{"t":6.499,"d":-2.67,"e":-2.15},{"t":6.571,"d":-1.1,"e":-1.89},{"t":6.643,"d":0.46,"e":-0.32},{"t":6.739,"d":0.46,"e":0.46},{"t":6.835,"d":-0.06,"e":0.2},{"t":6.906,"d":-0.58,"e":-0.32},{"t":6.978,"d":0.46,"e":-0.06},
{"t":7.026,"d":3.59,"e":2.03},{"t":7.074,"d":5.68,"e":4.64},{"t":7.113,"d":7.97,"e":6.83},{"t":7.17,"d":5.16,"e":6.57},{"t":7.242,"d":4.11,"e":4.64},{"t":7.314,"d":2.55,"e":3.33},{"t":7.362,"d":4.11,"e":3.33},{"t":7.41,"d":5.88,"e":5.0},{"t":7.458,"d":3.07,"e":4.48},{"t":7.506,"d":0.46,"e":1.77},{"t":7.578,"d":2.03,"e":1.25},{"t":7.65,"d":2.55,"e":2.29},{"t":7.722,"d":3.07,"e":2.81},{"t":7.77,"d":4.11,"e":3.59},{"t":7.818,"d":2.55,"e":3.33},{"t":7.89,"d":0.98,"e":1.77},{"t":7.962,"d":-1.63,"e":-0.33},
{"t":8.048,"d":-5.28,"e":-3.46},{"t":8.082,"d":-3.71,"e":-4.5},{"t":8.153,"d":-1.1,"e":-2.41},{"t":8.225,"d":0.98,"e":-0.06},{"t":8.321,"d":0.46,"e":0.72},{"t":8.393,"d":0.46,"e":0.46},{"t":8.465,"d":-1.63,"e":-0.59},{"t":8.537,"d":-1.1,"e":-1.37},{"t":8.609,"d":-0.58,"e":-0.84},{"t":8.681,"d":-0.06,"e":-0.32},{"t":8.753,"d":-0.06,"e":-0.06},{"t":8.849,"d":0.46,"e":0.2},{"t":8.921,"d":-0.58,"e":-0.06},{"t":8.969,"d":2.55,"e":0.99},
{"t":9.017,"d":7.76,"e":5.16},{"t":9.05,"d":10.05,"e":8.91},{"t":9.089,"d":7.76,"e":8.91},{"t":9.137,"d":1.5,"e":4.63},{"t":9.185,"d":-1.1,"e":0.2},{"t":9.257,"d":-3.19,"e":-2.15},{"t":9.305,"d":-2.67,"e":-2.93},{"t":9.376,"d":-1.63,"e":-2.15},{"t":9.448,"d":-1.1,"e":-1.37},{"t":9.52,"d":-1.63,"e":-1.37},{"t":9.568,"d":0.98,"e":-0.33},{"t":9.64,"d":2.55,"e":1.77},{"t":9.712,"d":2.03,"e":2.29},{"t":9.784,"d":3.07,"e":2.55},{"t":9.832,"d":1.5,"e":2.29},{"t":9.88,"d":0.46,"e":0.98},{"t":9.952,"d":-0.06,"e":0.2}
]
},
"layer":[
{"data":{"name":"vg"},"mark":{"type":"rule","strokeWidth":1},
"encoding":{
"x":{"field":"t","type":"quantitative","scale":{"domain":[0,10],"nice":false,"zero":false}},
"y":{"datum":5.61,"type":"quantitative","scale":{"domain":[-12.854,5.61],"nice":false,"zero":false},"axis":null},
"y2":{"datum":-5.73},
"color":{"condition":{"test":"datum.k == 'd'","value":"#363636"},"value":"#242424"},
"strokeDash":{"condition":{"test":"datum.k == 'q'","value":[2,2]},"value":[1,0]}}},
{"data":{"name":"ind"},"mark":{"type":"bar","width":1.3,"color":"#f05a5a"},
"encoding":{
"x":{"field":"t","type":"quantitative"},
"y":{"field":"u","type":"quantitative","scale":{"domain":[-12.854,5.61],"nice":false,"zero":false},"axis":{"orient":"right","title":null,"values":[5.61,4.2,2.8,1.4,0,-1.4,-2.8,-4.2,-5.61],"labelExpr":"format(abs(datum.value), '.2f') + '%'","labelPadding":3,"grid":false,"labelColor":{"condition":[{"test":"datum.value > 0.01","value":"#e8474a"},{"test":"datum.value < -0.01","value":"#2fbf57"}],"value":"#c8c8c8"}}},
"y2":{"datum":0}}},
{"data":{"name":"ind"},"mark":{"type":"bar","width":1.3,"color":"#1de3ea"},
"encoding":{
"x":{"field":"t","type":"quantitative"},
"y":{"field":"n","type":"quantitative","scale":{"domain":[-12.854,5.61],"nice":false,"zero":false},"axis":null},
"y2":{"datum":0}}},
{"data":{"name":"ln"},"transform":[{"filter":"datum.g != 'w'"}],"mark":{"type":"line","color":"#e8e000","strokeWidth":1},
"encoding":{
"x":{"field":"t","type":"quantitative"},
"y":{"field":"p","type":"quantitative","scale":{"domain":[1776.14,2152.16],"nice":false,"zero":false},
"axis":{"orient":"left","title":null,"values":[2152.16,2123.61,2095.05,2066.49,2037.93,2009.37,1980.81,1952.25,1923.70],"format":".2f","labelPadding":2,"grid":true,
"gridColor":{"condition":{"test":"abs(datum.value - 2037.93) < 0.01","value":"#4a4a4a"},"value":"#262626"},
"labelColor":{"condition":[{"test":"datum.value > 2040","value":"#e8474a"},{"test":"datum.value < 2035","value":"#2fbf57"}],"value":"#c8c8c8"}}},
"detail":{"field":"g"}}},
{"data":{"name":"ln"},"transform":[{"filter":"datum.g == 'w'"}],"mark":{"type":"line","color":"#e8e8e8","strokeWidth":1},
"encoding":{
"x":{"field":"t","type":"quantitative"},
"y":{"field":"p","type":"quantitative","scale":{"domain":[1776.14,2152.16],"nice":false,"zero":false},"axis":null}}},
{"data":{"name":"days"},"mark":{"type":"text","align":"left","baseline":"middle","dx":3.5,"font":"Noto Sans CJK SC","fontSize":12,"color":"#7c7c7c"},
"encoding":{"x":{"field":"d","type":"quantitative"},"y":{"datum":2138.6,"type":"quantitative","scale":{"domain":[1776.14,2152.16],"nice":false,"zero":false},"axis":null},"text":{"field":"s"}}},
{"data":{"values":[{}]},"mark":{"type":"text","text":"创业板指","align":"left","baseline":"middle","font":"Noto Sans CJK SC","fontSize":12,"color":"#ddd3a0"},
"encoding":{"x":{"datum":0.072,"type":"quantitative"},"y":{"datum":2163.9,"type":"quantitative","scale":{"domain":[1776.14,2152.16],"nice":false,"zero":false},"axis":null}}},
{"data":{"values":[{}]},"mark":{"type":"text","text":"分时","align":"left","baseline":"middle","font":"Noto Sans CJK SC","fontSize":12,"color":"#a8b2c6"},
"encoding":{"x":{"datum":0.892,"type":"quantitative"},"y":{"datum":2163.9,"type":"quantitative","scale":{"domain":[1776.14,2152.16],"nice":false,"zero":false},"axis":null}}},
{"data":{"values":[{}]},"mark":{"type":"text","text":"领先指标:","align":"left","baseline":"middle","font":"Noto Sans CJK SC","fontSize":12,"color":"#c9c900"},
"encoding":{"x":{"datum":1.338,"type":"quantitative"},"y":{"datum":2163.9,"type":"quantitative","scale":{"domain":[1776.14,2152.16],"nice":false,"zero":false},"axis":null}}},
{"data":{"values":[{}]},"mark":{"type":"text","text":"2048.80","align":"left","baseline":"middle","font":"Liberation Sans","fontSize":13,"color":"#e8474a"},
"encoding":{"x":{"datum":2.079,"type":"quantitative"},"y":{"datum":2163.9,"type":"quantitative","scale":{"domain":[1776.14,2152.16],"nice":false,"zero":false},"axis":null}}},
{"data":{"values":[{}]},"mark":{"type":"text","text":"成交额(元)","align":"left","baseline":"middle","font":"Noto Sans CJK SC","fontSize":12,"color":"#9a9a9a"},
"encoding":{"x":{"datum":2.863,"type":"quantitative"},"y":{"datum":2163.9,"type":"quantitative","scale":{"domain":[1776.14,2152.16],"nice":false,"zero":false},"axis":null}}},
{"data":{"values":[{}]},"mark":{"type":"rect","color":"#000000"},
"encoding":{"x":{"datum":0,"type":"quantitative"},"x2":{"datum":10},
"y":{"datum":158.9,"type":"quantitative","scale":{"domain":[-198.4,728.2],"nice":false,"zero":false},"axis":null},"y2":{"datum":131}}},
{"data":{"values":[{}]},"mark":{"type":"rect","color":"#000000"},
"encoding":{"x":{"datum":0,"type":"quantitative"},"x2":{"datum":10},
"y":{"datum":-0.8,"type":"quantitative","scale":{"domain":[-198.4,728.2],"nice":false,"zero":false},"axis":null},"y2":{"datum":-49.5}}},
{"data":{"name":"vg"},"mark":{"type":"rule","strokeWidth":1},
"encoding":{
"x":{"field":"t","type":"quantitative"},
"y":{"datum":131,"type":"quantitative","scale":{"domain":[-198.4,728.2],"nice":false,"zero":false},"axis":null},
"y2":{"datum":0},
"color":{"condition":{"test":"datum.k == 'd'","value":"#363636"},"value":"#242424"},
"strokeDash":{"condition":{"test":"datum.k == 'q'","value":[2,2]},"value":[1,0]}}},
{"data":{"name":"vb"},"mark":{"type":"bar","width":2.2},
"encoding":{
"x":{"field":"t","type":"quantitative"},
"y":{"field":"v","type":"quantitative","scale":{"domain":[-198.4,728.2],"nice":false,"zero":false},"axis":{"orient":"left","title":null,"values":[131,65.5,0],"labelExpr":"datum.value == 131 ? '131亿' : datum.value == 65.5 ? '65.5亿' : ''","labelColor":"#9a9a9a","labelPadding":2,"labelOffset":2,"grid":true,"gridColor":"#262626"}},
"y2":{"datum":0},
"color":{"condition":{"test":"datum.c == 'r'","value":"#f05555"},"value":"#2bd35a"}}},
{"data":{"name":"vg"},"mark":{"type":"rule","strokeWidth":1},
"encoding":{
"x":{"field":"t","type":"quantitative"},
"y":{"datum":10.88,"type":"quantitative","scale":{"domain":[-6.32,100.75],"nice":false,"zero":false},"axis":null},
"y2":{"datum":-6.32},
"color":{"condition":{"test":"datum.k == 'd'","value":"#363636"},"value":"#242424"},
"strokeDash":{"condition":{"test":"datum.k == 'q'","value":[2,2]},"value":[1,0]}}},
{"data":{"name":"vb"},"mark":{"type":"bar","width":2.2},
"encoding":{
"x":{"field":"t","type":"quantitative","axis":{"orient":"bottom","title":null,"values":[0,1,2,3,4,5,6,7,8,9],"labelExpr":"['01/03','01/06','01/07','01/08','01/09','01/10','01/13','01/14','01/15','01/1614:00'][datum.value]","labelAlign":"left","labelColor":"#9a9a9a","labelPadding":5,"grid":false}},
"y":{"field":"h","type":"quantitative","scale":{"domain":[-6.32,100.75],"nice":false,"zero":false},"axis":{"orient":"left","title":null,"values":[10.56,4.93,-0.69],"format":".2f","labelPadding":2,"grid":true,"gridColor":"#262626","labelColor":{"condition":{"test":"datum.value < 0","value":"#2fbf57"},"value":"#e8474a"}}},
"y2":{"datum":0},
"color":{"condition":{"test":"datum.h > 0","value":"#f25a5a"},"value":"#1de3ea"}}},
{"data":{"name":"md"},"mark":{"type":"line","color":"#e8e8e8","strokeWidth":1},
"encoding":{"x":{"field":"t","type":"quantitative"},"y":{"field":"d","type":"quantitative","scale":{"domain":[-6.32,100.75],"nice":false,"zero":false},"axis":null}}},
{"data":{"name":"md"},"mark":{"type":"line","color":"#e8e000","strokeWidth":1},
"encoding":{"x":{"field":"t","type":"quantitative"},"y":{"field":"e","type":"quantitative","scale":{"domain":[-6.32,100.75],"nice":false,"zero":false},"axis":null}}},
{"data":{"values":[{}]},"mark":{"type":"point","shape":"square","size":150,"filled":false,"color":"#6e6e6e","strokeWidth":1},
"encoding":{"x":{"datum":0.137,"type":"quantitative"},"y":{"datum":13.79,"type":"quantitative","scale":{"domain":[-6.32,100.75],"nice":false,"zero":false},"axis":null}}},
{"data":{"values":[{}]},"mark":{"type":"text","text":"?","align":"center","baseline":"middle","font":"Liberation Sans","fontSize":11,"color":"#c8c8c8"},
"encoding":{"x":{"datum":0.137,"type":"quantitative"},"y":{"datum":13.79,"type":"quantitative","scale":{"domain":[-6.32,100.75],"nice":false,"zero":false},"axis":null}}},
{"data":{"values":[{}]},"mark":{"type":"text","text":"MACD (12,26,9)","align":"left","baseline":"middle","font":"Liberation Sans","fontSize":11.5,"color":"#9a9a9a"},
"encoding":{"x":{"datum":0.3,"type":"quantitative"},"y":{"datum":13.79,"type":"quantitative","scale":{"domain":[-6.32,100.75],"nice":false,"zero":false},"axis":null}}},
{"data":{"values":[{}]},"mark":{"type":"text","text":"DIF:-3.509↓","align":"left","baseline":"middle","font":"Liberation Sans","fontSize":12,"color":"#e6e6e6"},
"encoding":{"x":{"datum":1.774,"type":"quantitative"},"y":{"datum":13.79,"type":"quantitative","scale":{"domain":[-6.32,100.75],"nice":false,"zero":false},"axis":null}}},
{"data":{"values":[{}]},"mark":{"type":"text","text":"DEA:-2.972↓","align":"left","baseline":"middle","font":"Liberation Sans","fontSize":12,"color":"#e0e000"},
"encoding":{"x":{"datum":2.94,"type":"quantitative"},"y":{"datum":13.79,"type":"quantitative","scale":{"domain":[-6.32,100.75],"nice":false,"zero":false},"axis":null}}},
{"data":{"values":[{}]},"mark":{"type":"text","text":"MACD:-1.075↓","align":"left","baseline":"middle","font":"Liberation Sans","fontSize":12,"color":"#2fbf57"},
"encoding":{"x":{"datum":4.005,"type":"quantitative"},"y":{"datum":13.79,"type":"quantitative","scale":{"domain":[-6.32,100.75],"nice":false,"zero":false},"axis":null}}},
{"data":{"values":[{}]},"mark":{"type":"text","text":"改参数","align":"left","baseline":"middle","font":"Noto Sans CJK SC","fontSize":12,"color":"#8c8c8c"},
"encoding":{"x":{"datum":7.827,"type":"quantitative"},"y":{"datum":13.79,"type":"quantitative","scale":{"domain":[-6.32,100.75],"nice":false,"zero":false},"axis":null}}},
{"data":{"values":[{}]},"mark":{"type":"text","text":"加指标","align":"left","baseline":"middle","font":"Noto Sans CJK SC","fontSize":12,"color":"#8c8c8c"},
"encoding":{"x":{"datum":8.489,"type":"quantitative"},"y":{"datum":13.79,"type":"quantitative","scale":{"domain":[-6.32,100.75],"nice":false,"zero":false},"axis":null}}},
{"data":{"values":[{}]},"mark":{"type":"text","text":"换指标","align":"left","baseline":"middle","font":"Noto Sans CJK SC","fontSize":12,"color":"#8c8c8c"},
"encoding":{"x":{"datum":9.147,"type":"quantitative"},"y":{"datum":13.79,"type":"quantitative","scale":{"domain":[-6.32,100.75],"nice":false,"zero":false},"axis":null}}},
{"data":{"values":[{}]},"mark":{"type":"point","shape":"square","size":170,"filled":false,"color":"#6e6e6e","strokeWidth":1},
"encoding":{"x":{"datum":9.849,"type":"quantitative"},"y":{"datum":13.79,"type":"quantitative","scale":{"domain":[-6.32,100.75],"nice":false,"zero":false},"axis":null}}},
{"data":{"values":[{}]},"mark":{"type":"text","text":"×","align":"center","baseline":"middle","font":"Liberation Sans","fontSize":13,"color":"#8c8c8c"},
"encoding":{"x":{"datum":9.849,"type":"quantitative"},"y":{"datum":13.79,"type":"quantitative","scale":{"domain":[-6.32,100.75],"nice":false,"zero":false},"axis":null}}}
],
"resolve":{"scale":{"y":"independent"},"axis":{"y":"independent"}}
}
